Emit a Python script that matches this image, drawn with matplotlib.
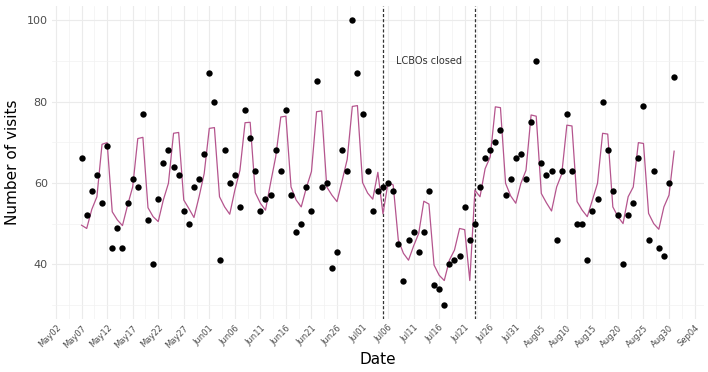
import pandas as pd
import matplotlib.pyplot as plt
import matplotlib.dates as mdates

# daily visits (points) and fitted model values (line), May 7 - Aug 31
dates = pd.date_range('2013-05-07', '2013-08-31', freq='D')
visits = [66, 52, 58, 62, 55, 69, 44, 49, 44, 55,
          61, 59, 77, 51, 40, 56, 65, 68, 64, 62,
          53, 50, 59, 61, 67, 87, 80, 41, 68, 60,
          62, 54, 78, 71, 63, 53, 56, 57, 68, 63,
          78, 57, 48, 50, 59, 53, 85, 59, 60, 39,
          43, 68, 63, 100, 87, 77, 63, 53, 58, 59,
          60, 58, 45, 36, 46, 48, 43, 48, 58, 35,
          34, 30, 40, 41, 42, 54, 46, 50, 59, 66,
          68, 70, 73, 57, 61, 66, 67, 61, 75, 90,
          65, 62, 63, 46, 63, 77, 63, 50, 50, 41,
          53, 56, 80, 68, 58, 52, 40, 52, 55, 66,
          79, 46, 63, 44, 42, 60, 86]
fitted = [49.6, 48.8, 53.5, 56.6, 69.5, 69.9, 52.9, 50.9, 49.5, 54.5,
          59.0, 70.9, 71.2, 53.9, 51.7, 50.5, 55.8, 59.9, 72.2, 72.4,
          55.8, 53.7, 51.5, 56.6, 62.3, 73.4, 73.6, 56.6, 54.1, 52.3,
          58.2, 63.1, 74.8, 74.9, 57.6, 55.0, 53.3, 60.0, 66.4, 76.2,
          76.4, 59.0, 55.8, 54.1, 58.8, 62.8, 77.5, 77.7, 59.0, 57.0,
          55.4, 60.5, 65.8, 78.8, 79.0, 60.1, 57.5, 56.0, 62.6, 52.4,
          60.1, 59.5, 46.0, 42.7, 41.0, 44.5, 47.6, 55.5, 54.8, 39.8,
          37.3, 36.0, 41.0, 43.5, 48.8, 48.5, 36.0, 58.2, 56.6, 63.5,
          66.4, 78.7, 78.5, 59.9, 56.8, 55.0, 59.9, 63.1, 76.7, 76.4,
          57.4, 55.1, 53.1, 59.0, 62.2, 74.2, 74.0, 55.4, 53.3, 51.7,
          55.8, 59.9, 72.2, 72.0, 54.1, 51.7, 50.0, 56.6, 59.0, 69.9,
          69.7, 52.5, 50.0, 48.6, 54.1, 57.0, 67.8]
closure_start = pd.Timestamp('2013-07-05')
closure_end = pd.Timestamp('2013-07-23')
label_text = 'LCBOs closed'

fig = plt.figure(figsize=(7.08, 3.72), dpi=100)
ax = fig.add_axes([0.0734, 0.142, 0.9206, 0.842])

ax.plot(dates, fitted, color='#b5558e', lw=0.9, zorder=3)
ax.scatter(dates, visits, s=21, color='black', zorder=4, linewidths=0)

for d in (closure_start, closure_end):
    ax.axvline(d, color='#333333', lw=0.9, linestyle=(0, (2.5, 1.6)), zorder=2)
mid = closure_start + (closure_end - closure_start) / 2
ax.text(mid, 90, label_text, ha='center', va='center', fontsize=7, color='#333333')

# axes limits like ggplot's 5% expansion
span = dates[-1] - dates[0]
ax.set_xlim(dates[0] - span * 0.05, dates[-1] + span * 0.05)
ax.set_ylim(30 - 3.5, 100 + 3.5)

major = pd.date_range('2013-05-02', '2013-09-04', freq='5D')
minor = major[:-1] + pd.Timedelta(hours=60)
ax.set_xticks(major)
ax.set_xticks(minor, minor=True)
ax.xaxis.set_major_formatter(mdates.DateFormatter('%b%d'))
ax.set_yticks([40, 60, 80, 100])
ax.set_yticks([30, 50, 70, 90], minor=True)

ax.grid(True, which='major', color='#ebebeb', lw=0.8)
ax.grid(True, which='minor', color='#f2f2f2', lw=0.5)
ax.set_axisbelow(True)
for s in ax.spines.values():
    s.set_visible(False)
ax.tick_params(which='both', length=0)
ax.tick_params(axis='y', labelsize=8, labelcolor='#4d4d4d', pad=3)
ax.tick_params(axis='x', labelsize=6, labelcolor='#4d4d4d', pad=3)
plt.setp(ax.get_xticklabels(), rotation=45, ha='right', rotation_mode='anchor')

ax.set_xlabel('Date', fontsize=11, labelpad=2)
ax.set_ylabel('Number of visits', fontsize=11, labelpad=5)

fig.savefig('out.png', dpi=100)
